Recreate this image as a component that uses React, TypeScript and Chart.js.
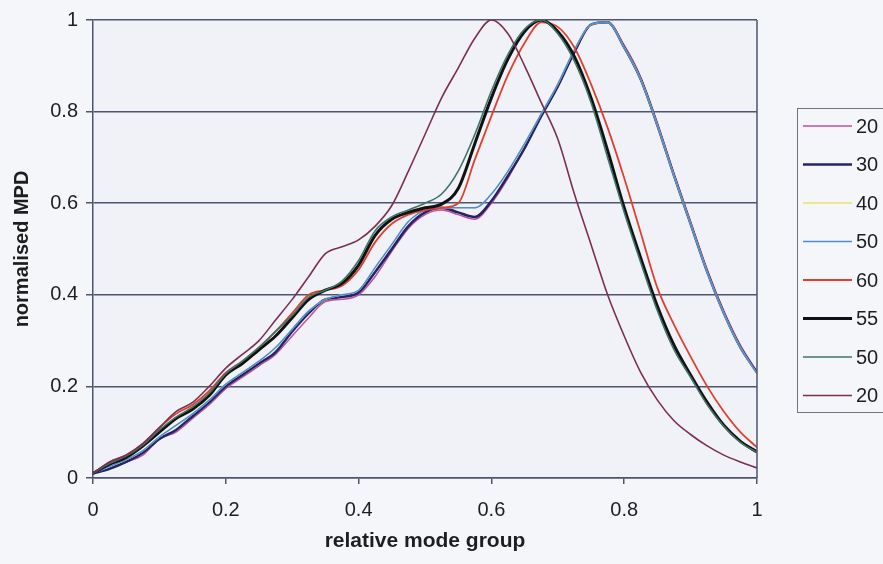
import React, { useEffect, useRef } from "react";
import { Chart, registerables } from "chart.js";

Chart.register(...registerables);

const xValues = [0, 0.025, 0.05, 0.075, 0.1, 0.125, 0.15, 0.175, 0.2, 0.225, 0.25, 0.275, 0.3, 0.325, 0.35, 0.375, 0.4, 0.425, 0.45, 0.475, 0.5, 0.525, 0.55, 0.575, 0.6, 0.625, 0.65, 0.675, 0.7, 0.725, 0.75, 0.775, 0.8, 0.825, 0.85, 0.875, 0.9, 0.925, 0.95, 0.975, 1];

const seriesLabels = ["20", "30", "40", "50", "60", "55", "50", "20"];

const s20a = [0.01, 0.022, 0.035, 0.05, 0.085, 0.1, 0.13, 0.16, 0.195, 0.22, 0.245, 0.27, 0.31, 0.35, 0.385, 0.39, 0.4, 0.44, 0.495, 0.545, 0.575, 0.585, 0.575, 0.565, 0.6, 0.655, 0.72, 0.79, 0.855, 0.93, 0.99, 0.995, 0.945, 0.875, 0.775, 0.665, 0.56, 0.455, 0.365, 0.29, 0.232];
const s30 = [0.01, 0.02, 0.035, 0.055, 0.085, 0.105, 0.135, 0.165, 0.2, 0.225, 0.25, 0.275, 0.32, 0.36, 0.39, 0.395, 0.405, 0.45, 0.5, 0.55, 0.58, 0.59, 0.58, 0.57, 0.605, 0.66, 0.72, 0.79, 0.855, 0.93, 0.99, 0.995, 0.94, 0.87, 0.77, 0.66, 0.555, 0.45, 0.36, 0.285, 0.23];
const s40 = [0.01, 0.025, 0.04, 0.06, 0.09, 0.115, 0.14, 0.17, 0.205, 0.23, 0.255, 0.285, 0.325, 0.365, 0.39, 0.4, 0.41, 0.46, 0.51, 0.56, 0.585, 0.59, 0.59, 0.59, 0.62, 0.67, 0.73, 0.795, 0.86, 0.935, 0.99, 0.995, 0.94, 0.87, 0.77, 0.66, 0.555, 0.45, 0.36, 0.285, 0.228];
const s50a = [0.01, 0.025, 0.04, 0.06, 0.09, 0.115, 0.14, 0.17, 0.205, 0.23, 0.255, 0.285, 0.325, 0.365, 0.39, 0.4, 0.41, 0.46, 0.51, 0.56, 0.585, 0.59, 0.59, 0.59, 0.62, 0.67, 0.73, 0.795, 0.86, 0.935, 0.99, 0.995, 0.94, 0.87, 0.77, 0.66, 0.555, 0.45, 0.36, 0.285, 0.228];
const s60 = [0.01, 0.035, 0.05, 0.075, 0.11, 0.14, 0.16, 0.19, 0.23, 0.255, 0.285, 0.32, 0.36, 0.4, 0.41, 0.42, 0.455, 0.515, 0.555, 0.575, 0.585, 0.59, 0.6, 0.695, 0.79, 0.88, 0.95, 0.995, 0.985, 0.94, 0.86, 0.765, 0.655, 0.535, 0.415, 0.335, 0.265, 0.2, 0.145, 0.1, 0.067];
const s55 = [0.01, 0.03, 0.045, 0.07, 0.1, 0.13, 0.15, 0.18, 0.225, 0.25, 0.28, 0.31, 0.35, 0.39, 0.41, 0.425, 0.465, 0.53, 0.565, 0.58, 0.59, 0.598, 0.632, 0.73, 0.83, 0.915, 0.975, 1.0, 0.975, 0.92, 0.83, 0.715, 0.59, 0.48, 0.375, 0.29, 0.225, 0.165, 0.115, 0.08, 0.057];
const s50b = [0.01, 0.032, 0.048, 0.072, 0.105, 0.133, 0.155, 0.185, 0.228, 0.255, 0.285, 0.32, 0.355, 0.395, 0.41, 0.43, 0.475, 0.54, 0.57, 0.585, 0.6, 0.62, 0.67, 0.75, 0.845, 0.925, 0.98, 1.0, 0.97, 0.91, 0.82, 0.7, 0.58, 0.47, 0.365, 0.28, 0.22, 0.16, 0.113, 0.078, 0.056];
const s20b = [0.01, 0.035, 0.05, 0.075, 0.11, 0.145, 0.165, 0.2, 0.24, 0.27, 0.3, 0.345, 0.39, 0.44, 0.49, 0.505, 0.52, 0.55, 0.595, 0.67, 0.75, 0.83, 0.895, 0.96, 1.0, 0.97, 0.9, 0.82, 0.74, 0.62, 0.51, 0.4, 0.31, 0.23, 0.17, 0.125, 0.095, 0.07, 0.05, 0.035, 0.022];

const seriesValues = [s20a, s30, s40, s50a, s60, s55, s50b, s20b];
const seriesColors = ["#c0509a", "#23236b", "#efe060", "#4a8fd6", "#e04030", "#111111", "#3f7468", "#7a3050"];
const seriesWidths = [1.5, 2.5, 1.5, 1.5, 1.8, 3, 1.6, 1.6];

const yTicks = [0, 0.2, 0.4, 0.6, 0.8, 1];
const xTicks = [0, 0.2, 0.4, 0.6, 0.8, 1];

const FONT = "'Liberation Sans', Arial, sans-serif";
const FRAME = "#4f546e";

const bgPlugin = {
  id: "bgPlugin",
  beforeDraw(chart: any) {
    const { ctx, chartArea } = chart;
    ctx.save();
    ctx.fillStyle = "#f5f6f9";
    ctx.fillRect(0, 0, chart.width, chart.height);
    ctx.fillStyle = "#f0f2f7";
    ctx.fillRect(chartArea.left, chartArea.top, chartArea.right - chartArea.left, chartArea.bottom - chartArea.top);
    ctx.restore();
  },
  afterDraw(chart: any) {
    const { ctx, chartArea } = chart;
    ctx.save();
    ctx.strokeStyle = FRAME;
    ctx.lineWidth = 1.5;
    ctx.beginPath();
    ctx.moveTo(chartArea.right, chartArea.top);
    ctx.lineTo(chartArea.right, chartArea.bottom);
    ctx.stroke();
    // legend
    const boxLeft = 797;
    const boxTop = 108;
    const boxBottom = 412;
    ctx.strokeStyle = "#70747f";
    ctx.lineWidth = 1;
    ctx.strokeRect(boxLeft + 0.5, boxTop + 0.5, 120, boxBottom - boxTop);
    ctx.font = `20px ${FONT}`;
    ctx.textBaseline = "middle";
    ctx.textAlign = "left";
    chart.data.datasets.forEach((ds: any, i: number) => {
      const y = 126 + i * 38.5;
      ctx.strokeStyle = ds.borderColor;
      ctx.lineWidth = ds.borderWidth;
      ctx.beginPath();
      ctx.moveTo(803, y);
      ctx.lineTo(852, y);
      ctx.stroke();
      ctx.fillStyle = "#1e1e1e";
      ctx.fillText(ds.label, 856, y + 1);
    });
    ctx.restore();
  },
};

export default function App() {
  const canvasRef = useRef<HTMLCanvasElement | null>(null);

  useEffect(() => {
    if (!canvasRef.current) return;
    const datasets = seriesValues.map((vals, i) => ({
      label: seriesLabels[i],
      data: vals.map((v, j) => ({ x: xValues[j], y: v })),
      borderColor: seriesColors[i],
      backgroundColor: seriesColors[i],
      borderWidth: seriesWidths[i],
      pointRadius: 0,
      fill: false,
      cubicInterpolationMode: "monotone" as const,
      order: -i,
    }));
    const chart = new Chart(canvasRef.current, {
      type: "line",
      data: { datasets },
      options: {
        animation: false,
        responsive: false,
        maintainAspectRatio: false,
        layout: { padding: { top: 18, right: 126, left: 0, bottom: 0 } },
        plugins: { legend: { display: false }, tooltip: { enabled: false } },
        scales: {
          x: {
            type: "linear",
            min: 0,
            max: 1,
            afterFit: (s: any) => { s.height = 86; },
            afterBuildTicks: (s: any) => { s.ticks = xTicks.map((v) => ({ value: v })); },
            ticks: {
              color: "#1e1e1e",
              font: { family: FONT, size: 20 },
              padding: 14,
              maxRotation: 0,
              callback: (v: any) => String(v),
            },
            grid: { drawOnChartArea: false, drawTicks: true, tickLength: 6, color: FRAME, lineWidth: 1.5 },
            border: { color: FRAME, width: 1.5 },
            title: {
              display: true,
              text: "relative mode group",
              color: "#1e1e1e",
              font: { family: FONT, size: 21, weight: "bold" },
              padding: { top: 0, bottom: 10 },
            },
          },
          y: {
            type: "linear",
            min: 0,
            max: 1,
            afterFit: (s: any) => { s.width = 93; },
            afterBuildTicks: (s: any) => { s.ticks = yTicks.map((v) => ({ value: v })); },
            ticks: {
              color: "#1e1e1e",
              font: { family: FONT, size: 20 },
              padding: 8,
              callback: (v: any) => String(v),
            },
            grid: { drawOnChartArea: true, drawTicks: true, tickLength: 7, color: FRAME, lineWidth: 1.5 },
            border: { color: FRAME, width: 1.5 },
            title: {
              display: true,
              text: "normalised MPD",
              color: "#1e1e1e",
              font: { family: FONT, size: 20, weight: "bold" },
              padding: { top: 10, bottom: 0 },
            },
          },
        },
      },
      plugins: [bgPlugin],
    });
    return () => chart.destroy();
  }, []);

  return (
    <div style={{ position: "fixed", left: 0, top: 0, width: 883, height: 564 }}>
      <canvas ref={canvasRef} width={883} height={564} style={{ width: 883, height: 564, display: "block" }} />
    </div>
  );
}
